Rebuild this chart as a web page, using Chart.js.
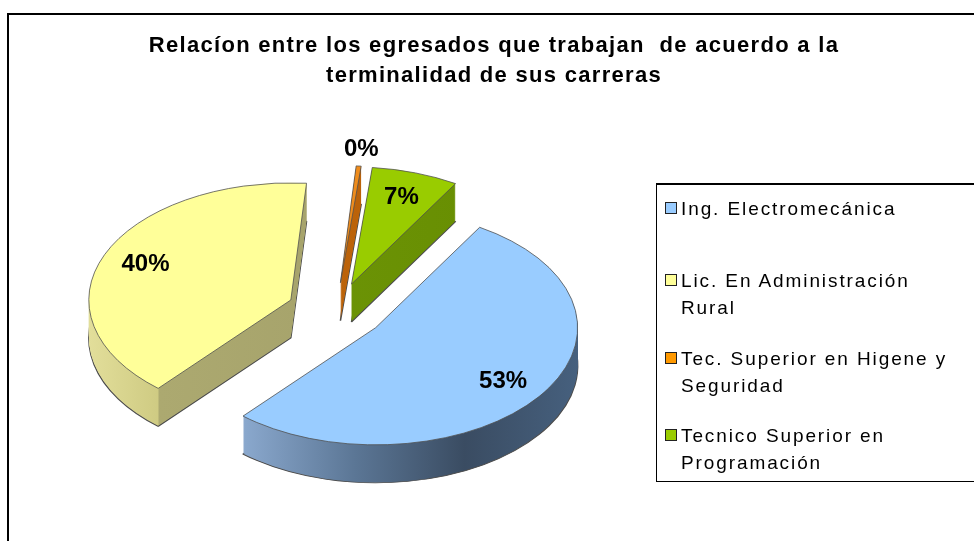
<!DOCTYPE html>
<html>
<head>
<meta charset="utf-8">
<script src="https://cdn.jsdelivr.net/npm/chart.js@4.4.1/dist/chart.umd.min.js"></script>
<style>
  html, body { margin: 0; padding: 0; background: #fff; }
  #wrap { position: relative; width: 974px; height: 541px; overflow: hidden; }
  #frame { position: absolute; left: 7px; top: 13px; width: 1000px; height: 600px;
           border-left: 2px solid #000; border-top: 2px solid #000; }
  #chart { position: absolute; left: 0; top: 0; }
  #legend { position: absolute; left: 656px; top: 183px; width: 320px; height: 296px;
            border: 1px solid #000; border-top-width: 2px;
            font-family: 'Liberation Sans', Arial, sans-serif; font-size: 19px; line-height: 27px; color: #000; }
  .item { position: absolute; left: 24px; white-space: nowrap; letter-spacing: 1.9px; }
  .box { position: absolute; left: -16px; top: 7px; width: 10px; height: 10px; border: 1px solid #222; }
</style>
</head>
<body>
<div id="wrap">
  <div id="frame"></div>
  <canvas id="chart" width="974" height="541"></canvas>
  <div id="legend"></div>
</div>
<script>
// chart data
const categories = ['Ing. Electromecánica', 'Lic. En Administración Rural', 'Tec. Superior en Higene y Seguridad', 'Tecnico Superior en Programación'];
const legendLines = [['Ing. Electromecánica'], ['Lic. En Administración', 'Rural'], ['Tec. Superior en Higene y', 'Seguridad'], ['Tecnico Superior en', 'Programación']];
const shares = [53, 40, 0.4, 7];
const titleLines = ['Relacíon entre los egresados que trabajan  de acuerdo a la', 'terminalidad de sus carreras'];

// look
const fontFamily = "'Liberation Sans', Arial, sans-serif";
const topColors = ['#99ccff', '#ffff99', '#ef8c1c', '#99cc00'];
const swatchColors = ['#99ccff', '#ffff99', '#ff9900', '#99cc00'];
const wallStops = [
    [[0, '#a4bedf'], [0.18, '#89a7cc'], [0.45, '#5b7695'], [0.72, '#3a4c62'], [1, '#46607e']],
    [[0, '#e2de9a'], [0.17, '#cfcb83'], [0.175, '#aca970'], [1, '#a09d66']],
    [[0, '#c86c0e'], [1, '#b05a05']],
    [[0, '#70990a'], [1, '#668c00']]
];
const legendRowTop = [10, 82, 160, 237];

//Legend made in html, same colors as slices
let legend_box = document.getElementById('legend');
legendLines.forEach((lines, i) => {
    let item = document.createElement('div');
    item.className = 'item';
    item.style.top = legendRowTop[i] + 'px';
    item.innerHTML = `<span class="box" style="background:${swatchColors[i]}"></span>` + lines.join('<br>');
    legend_box.appendChild(item);
});

const wallFill = (ctx, arc, i) => {
    const r = arc.outerRadius;
    let g = ctx.createLinearGradient(arc.x - r, 0, arc.x + r, 0);
    wallStops[i].forEach(s => g.addColorStop(s[0], s[1]));
    return g;
};

// draws the pie tilted, with side walls and exploded slices
const pie3d = {
    id: 'pie3d',
    beforeDraw(chart, args, opts) {
        // wider title text, like the original
        chart.ctx.letterSpacing = opts.titleSpacing;
    },
    beforeDatasetsDraw(chart, args, opts) {
        const ctx = chart.ctx;
        ctx.letterSpacing = '0px';
        const arcs = chart.getDatasetMeta(0).data;
        const midOf = a => (a.startAngle + a.endAngle) / 2;
        let order = arcs.map((a, i) => i).sort((i, j) => Math.sin(midOf(arcs[i])) - Math.sin(midOf(arcs[j])));
        order.forEach(i => {
            const arc = arcs[i];
            const mid = midOf(arc);
            const ex = Math.cos(mid) * opts.explode;
            const ey = Math.sin(mid) * opts.explode;
            const place = drop => {
                ctx.translate(opts.cx, opts.cy + drop);
                ctx.scale(1, opts.tilt);
                ctx.translate(ex - arc.x, ey - arc.y);
            };
            const base = arc.options;
            for (let d = opts.depth; d >= 1; d--) {
                ctx.save();
                place(d);
                arc.options = Object.assign({}, base, {
                    backgroundColor: wallFill(ctx, arc, i),
                    borderColor: '#4d4d4d',
                    borderWidth: d === opts.depth ? 1.5 : 0
                });
                arc.draw(ctx);
                ctx.restore();
            }
            arc.options = base;
            ctx.save();
            place(0);
            arc.draw(ctx);
            ctx.restore();
        });
        return false;
    },
    afterDraw(chart, args, opts) {
        const ctx = chart.ctx;
        const meta = chart.getDatasetMeta(0);
        const total = shares.reduce((s, v) => s + v, 0);
        ctx.save();
        ctx.letterSpacing = '0px';
        ctx.font = 'bold 24px ' + fontFamily;
        ctx.fillStyle = '#000';
        ctx.textAlign = 'center';
        ctx.textBaseline = 'middle';
        meta.data.forEach((arc, i) => {
            const pct = Math.round(shares[i] / total * 100);
            const mid = (arc.startAngle + arc.endAngle) / 2;
            const r = arc.outerRadius * (pct < 1 ? 1.14 : 0.78) + opts.explode;
            const x = opts.cx + Math.cos(mid) * r;
            const y = opts.cy + Math.sin(mid) * r * opts.tilt;
            ctx.fillText(pct + '%', x, y);
        });
        ctx.restore();
    }
};

let chart_canvas = document.getElementById('chart');
let pie_chart = new Chart(chart_canvas, {
    type: 'pie',
    data: {
        labels: categories,
        datasets: [{
            data: shares,
            backgroundColor: topColors,
            borderColor: '#505050',
            borderWidth: 1
        }]
    },
    options: {
        responsive: false,
        animation: false,
        rotation: 31,
        radius: 202,
        layout: { padding: { left: 14 } },
        plugins: {
            legend: { display: false },
            tooltip: { enabled: false },
            title: {
                display: true,
                text: titleLines,
                color: '#000',
                font: { family: fontFamily, size: 22, weight: 'bold', lineHeight: 1.364 },
                padding: { top: 31, bottom: 10 }
            },
            pie3d: { cx: 336, cy: 311, tilt: 0.58, depth: 38, explode: 49, titleSpacing: '1.3px' }
        }
    },
    plugins: [pie3d]
});
</script>
</body>
</html>
